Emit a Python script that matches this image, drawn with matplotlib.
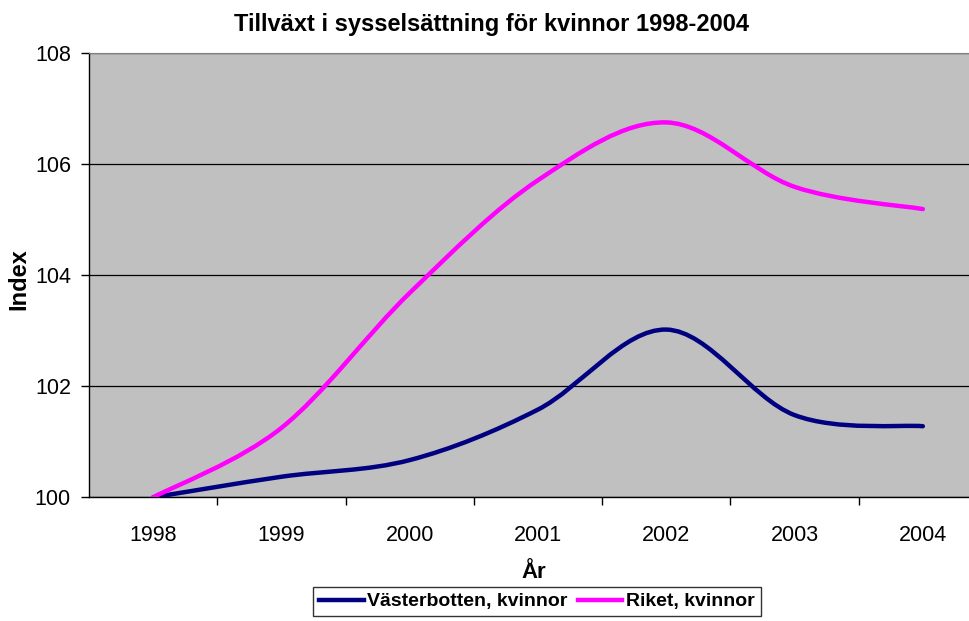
import matplotlib
matplotlib.use("Agg")
import matplotlib.pyplot as plt
from matplotlib.path import Path
from matplotlib.patches import PathPatch
from matplotlib.lines import Line2D

years = ["1998", "1999", "2000", "2001", "2002", "2003", "2004"]
vasterbotten = [100.0, 100.37, 100.67, 101.58, 103.02, 101.48, 101.28]
riket = [100.0, 101.25, 103.68, 105.71, 106.75, 105.59, 105.19]

plt.rcParams['font.family'] = ['Liberation Sans', 'DejaVu Sans']


def smooth_path(xs, ys):
    # excel-like smoothed line: cubic bezier through every point
    n = len(xs)
    verts = [(xs[0], ys[0])]
    codes = [Path.MOVETO]
    for i in range(n - 1):
        i0 = max(i - 1, 0)
        i3 = min(i + 2, n - 1)
        c1 = (xs[i] + (xs[i + 1] - xs[i0]) / 6, ys[i] + (ys[i + 1] - ys[i0]) / 6)
        c2 = (xs[i + 1] - (xs[i3] - xs[i]) / 6, ys[i + 1] - (ys[i3] - ys[i]) / 6)
        verts += [c1, c2, (xs[i + 1], ys[i + 1])]
        codes += [Path.CURVE4] * 3
    return Path(verts, codes)


fig = plt.figure(figsize=(9.69, 6.21), dpi=100)
W, H = 969, 621
left, right, top, bottom = 89, 987, 53, 497.3
ax = fig.add_axes([left / W, 1 - bottom / H, (right - left) / W, (bottom - top) / H])
ax.set_facecolor('#C0C0C0')

xs = list(range(len(years)))
for vals, col in [(vasterbotten, '#000080'), (riket, '#FF00FF')]:
    patch = PathPatch(smooth_path(xs, vals), fill=False, edgecolor=col, lw=3.2,
                      capstyle='round', joinstyle='round', zorder=3)
    ax.add_patch(patch)

ax.set_xlim(-0.5, len(years) - 0.5)
ax.set_ylim(100, 108)
ax.set_yticks([100, 102, 104, 106, 108])
ax.set_yticklabels(['100', '102', '104', '106', '108'], fontsize=15.5)
ax.yaxis.grid(True, color='black', lw=0.9)
ax.set_axisbelow(True)

ax.set_xticks(xs)
ax.set_xticklabels(years, fontsize=15.5)
ax.set_xticks([x + 0.5 for x in xs[:-1]], minor=True)
ax.tick_params(axis='x', which='major', length=0, pad=20)
ax.tick_params(axis='x', which='minor', length=6, width=1, direction='out')
ax.tick_params(axis='y', length=6, width=1, direction='out', pad=7)

ax.spines['right'].set_visible(False)
ax.spines['top'].set_color('#808080')
for s in ['left', 'bottom']:
    ax.spines[s].set_color('black')
    ax.spines[s].set_linewidth(1.0)

fig.text(492 / W, 1 - 25 / H, 'Tillväxt i sysselsättning för kvinnor 1998-2004',
         ha='center', va='center', fontsize=17, fontweight='bold')
fig.text(19 / W, 1 - 279 / H, 'Index', rotation=90, ha='center', va='center',
         fontsize=17, fontweight='bold')
fig.text(534 / W, 1 - 572 / H, 'År', ha='center', va='center',
         fontsize=16, fontweight='bold')

handles = [Line2D([], [], color='#000080', lw=3.2),
           Line2D([], [], color='#FF00FF', lw=3.2)]
leg = fig.legend(handles, ['Västerbotten, kvinnor', 'Riket, kvinnor'],
                 loc='upper left', bbox_to_anchor=(313 / W, 1 - 587 / H),
                 ncol=2, frameon=True, fancybox=False, shadow=False,
                 prop={'size': 14, 'weight': 'bold'}, handlelength=2.3,
                 handletextpad=0.2, columnspacing=0.5, borderpad=0.3,
                 borderaxespad=0)
leg.get_frame().set_edgecolor('black')
leg.get_frame().set_linewidth(1.0)

fig.savefig('out.png', dpi=100)
